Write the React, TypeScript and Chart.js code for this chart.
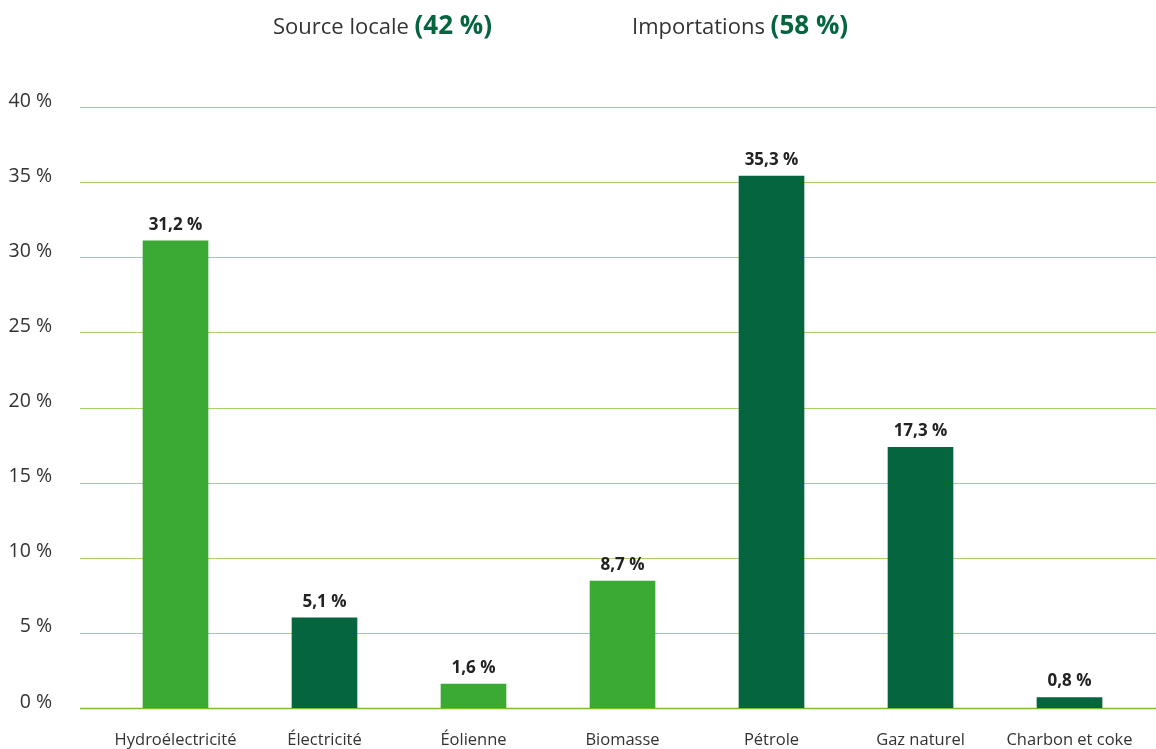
import React, { useEffect, useRef } from "react";
import { Chart, registerables } from "chart.js";

Chart.register(...registerables);

const categories = [
  "Hydroélectricité",
  "Électricité",
  "Éolienne",
  "Biomasse",
  "Pétrole",
  "Gaz naturel",
  "Charbon et coke",
];
// bar heights as drawn in the picture
const barValues = [31.1, 6.0, 1.6, 8.45, 35.4, 17.35, 0.7];
// printed labels above bars
const valueLabels = ["31,2 %", "5,1 %", "1,6 %", "8,7 %", "35,3 %", "17,3 %", "0,8 %"];
const groups = ["local", "import", "local", "local", "import", "import", "import"];
const yTicks = [0, 5, 10, 15, 20, 25, 30, 35, 40];

const LIGHT = "#3AAA35";
const DARK = "#05653F";
const FONT = "'Open Sans', 'Noto Sans', sans-serif";

export default function App() {
  const ref = useRef<HTMLCanvasElement>(null);

  useEffect(() => {
    document.body.style.margin = "0";
    const canvas = ref.current!;
    const gridPlugin = {
      id: "extGrid",
      beforeDatasetsDraw(chart: any) {
        const ctx = chart.ctx;
        const y = chart.scales.y;
        ctx.save();
        yTicks.forEach((t) => {
          const py = Math.round(y.getPixelForValue(t)) + 0.5;
          ctx.beginPath();
          ctx.strokeStyle = t === 0 ? "#7DBB2C" : "#A6D36A";
          ctx.lineWidth = t === 0 ? 1.5 : 1;
          ctx.moveTo(80, py);
          ctx.lineTo(chart.width, py);
          ctx.stroke();
        });
        ctx.restore();
      },
      afterDatasetsDraw(chart: any) {
        const ctx = chart.ctx;
        const meta = chart.getDatasetMeta(0);
        ctx.save();
        ctx.font = `bold 17px ${FONT}`;
        ctx.fillStyle = "#222222";
        ctx.textAlign = "center";
        ctx.textBaseline = "alphabetic";
        meta.data.forEach((bar: any, i: number) => {
          ctx.fillText(valueLabels[i], bar.x, bar.y - 11);
        });
        ctx.restore();
      },
    };

    const chart = new Chart(canvas, {
      type: "bar",
      data: {
        labels: categories,
        datasets: [
          {
            data: barValues,
            backgroundColor: groups.map((g) => (g === "local" ? LIGHT : DARK)),
            barThickness: 65,
            borderWidth: 0,
          },
        ],
      },
      options: {
        animation: false,
        responsive: false,
        maintainAspectRatio: false,
        devicePixelRatio: 1,
        layout: { padding: { top: 107, right: 12, left: 0, bottom: 0 } },
        plugins: {
          legend: { display: false },
          title: { display: false },
          tooltip: { enabled: false },
        },
        scales: {
          x: {
            grid: { display: false, drawTicks: false },
            border: { display: false },
            ticks: {
              padding: 22,
              color: "#333333",
              font: { family: FONT, size: 16.5 },
              maxRotation: 0,
              autoSkip: false,
            },
            afterFit: (s: any) => {
              s.height = 41;
              s.paddingLeft = 0;
              s.paddingRight = 0;
              s.paddingTop = 0;
              s.paddingBottom = 0;
            },
          },
          y: {
            min: 0,
            max: 40,
            grid: { display: false, drawTicks: false },
            border: { display: false },
            afterFit: (s: any) => {
              s.width = 101;
              s.paddingTop = 0;
              s.paddingBottom = 0;
            },
            afterBuildTicks: (s: any) => {
              s.ticks = yTicks.map((v) => ({ value: v }));
            },
            ticks: {
              padding: 49,
              labelOffset: -6,
              color: "#333333",
              font: { family: FONT, size: 19.5 },
              callback: (v: any) => `${v} %`,
            },
          },
        },
      },
      plugins: [gridPlugin],
    });
    return () => chart.destroy();
  }, []);

  const headStyle: React.CSSProperties = {
    position: "absolute",
    top: 8,
    fontFamily: FONT,
    fontSize: 22,
    color: "#333333",
    whiteSpace: "nowrap",
    lineHeight: "32px",
  };
  const bold: React.CSSProperties = { fontWeight: 700, color: DARK, fontSize: 26 };

  return (
    <div style={{ position: "fixed", left: 0, top: 0, width: 1156, height: 749, background: "#fff" }}>
      <canvas ref={ref} width={1156} height={749} style={{ position: "absolute", left: 0, top: 0, width: 1156, height: 749 }} />
      <div style={{ ...headStyle, left: 273 }}>
        Source locale <span style={bold}>(42 %)</span>
      </div>
      <div style={{ ...headStyle, left: 632 }}>
        Importations <span style={bold}>(58 %)</span>
      </div>
    </div>
  );
}
